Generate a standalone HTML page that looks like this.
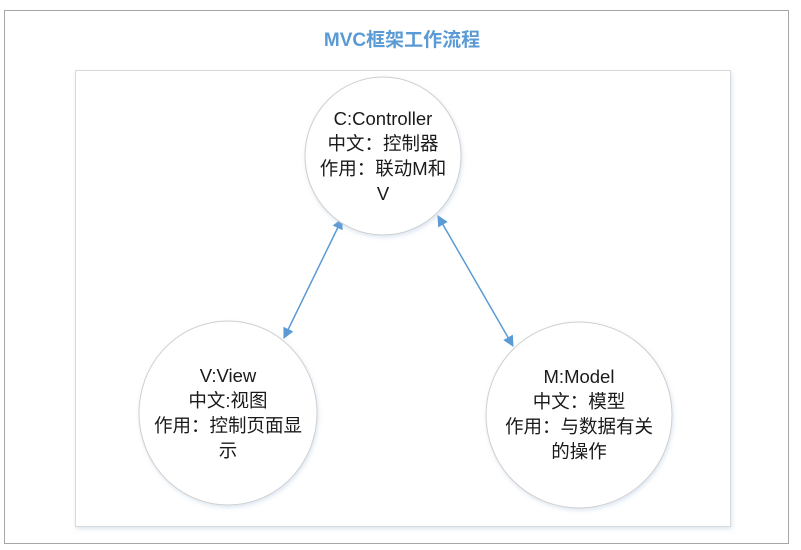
<!DOCTYPE html>
<html><head><meta charset="utf-8"><style>
html,body{margin:0;padding:0;background:#fff;width:801px;height:550px;overflow:hidden}
svg{display:block}
text{font-family:"Liberation Sans","Noto Sans CJK SC",sans-serif;}
</style></head><body>
<svg width="801" height="550" viewBox="0 0 801 550" xmlns="http://www.w3.org/2000/svg">
<defs>
<marker id="ah" viewBox="0 0 10 10" refX="9" refY="5" markerWidth="12" markerHeight="11" markerUnits="userSpaceOnUse" orient="auto-start-reverse">
<path d="M0,0 L10,5 L0,10 z" fill="#5b9bd5"/></marker>
<filter id="sh" x="-20%" y="-20%" width="140%" height="140%"><feDropShadow dx="1" dy="2" stdDeviation="2" flood-color="#9bb8d8" flood-opacity="0.35"/></filter>
</defs>
<rect x="4.5" y="10.5" width="784" height="533" fill="#fff" stroke="#a6a6a6" stroke-width="1"/>
<text x="402" y="46" text-anchor="middle" font-size="19" font-weight="bold" fill="#5b9bd5">MVC框架工作流程</text>
<rect x="75.5" y="70.5" width="655" height="456" fill="#fff" stroke="#d9d9d9" stroke-width="1" filter="url(#sh)"/>
<line x1="342" y1="219" x2="284" y2="338" stroke="#5b9bd5" stroke-width="1.5" marker-start="url(#ah)" marker-end="url(#ah)"/>
<line x1="438" y1="216" x2="513" y2="346" stroke="#5b9bd5" stroke-width="1.5" marker-start="url(#ah)" marker-end="url(#ah)"/>
<ellipse cx="383" cy="156" rx="78" ry="79" fill="#fff" stroke="#cfcfcf" filter="url(#sh)"/>
<ellipse cx="228" cy="413" rx="89" ry="92" fill="#fff" stroke="#cfcfcf" filter="url(#sh)"/>
<ellipse cx="579" cy="415" rx="93" ry="93" fill="#fff" stroke="#cfcfcf" filter="url(#sh)"/>
<g font-size="18.5" fill="#1a1a1a" text-anchor="middle">
<text x="383" y="125">C:Controller</text>
<text x="383" y="150">中文：控制器</text>
<text x="383" y="175">作用：联动M和</text>
<text x="383" y="200">V</text>
<text x="228" y="382">V:View</text>
<text x="228" y="407">中文:视图</text>
<text x="228" y="432">作用：控制页面显</text>
<text x="228" y="457">示</text>
<text x="579" y="383">M:Model</text>
<text x="579" y="408">中文：模型</text>
<text x="579" y="433">作用：与数据有关</text>
<text x="579" y="458">的操作</text>
</g>
</svg>
</body></html>
